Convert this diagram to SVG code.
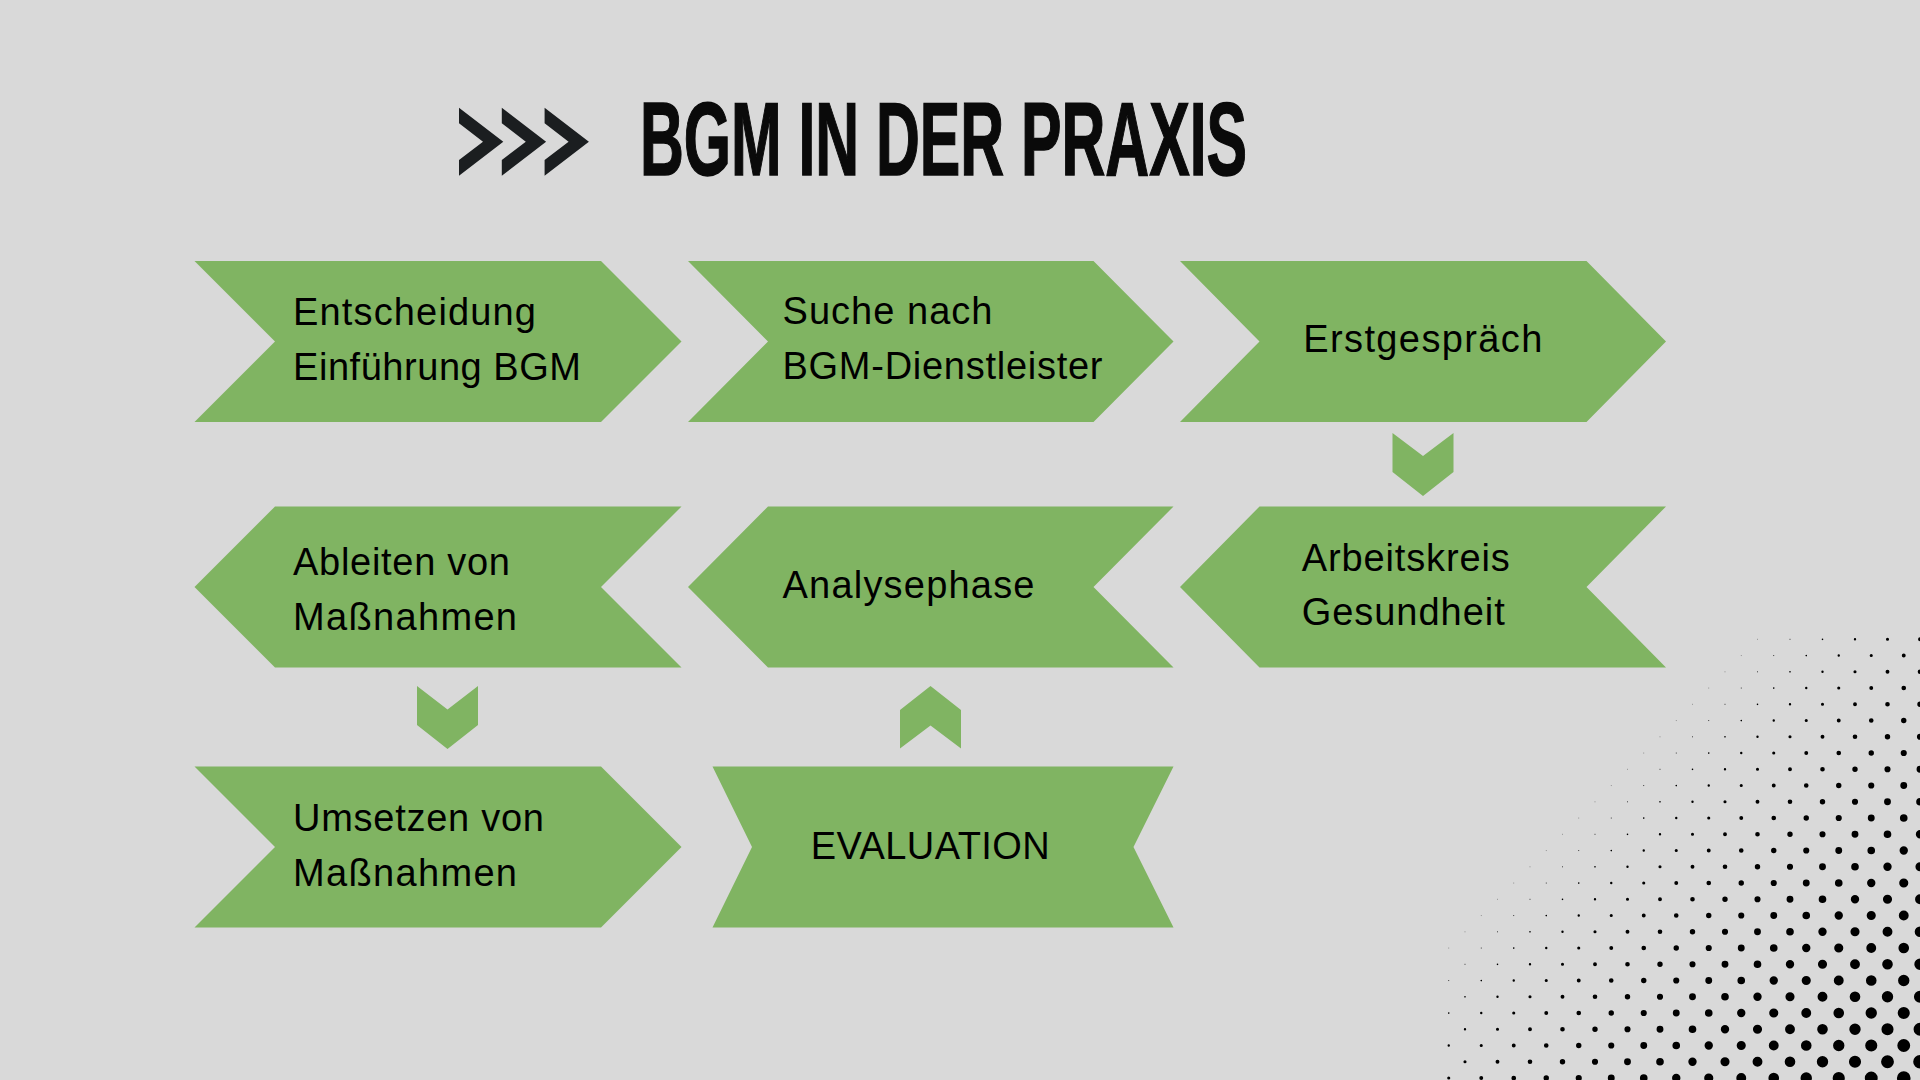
<svg xmlns="http://www.w3.org/2000/svg" width="1920" height="1080" viewBox="0 0 1920 1080">
<style>
.node{fill:#80b462}
.lbl{font-family:"Liberation Sans",Arial,sans-serif;font-size:38px;fill:#000}
.con{fill:#80b462}
.dots line{stroke:#000;stroke-linecap:round;stroke-dasharray:0 22.981;fill:none}
</style>
<rect x="0" y="0" width="1920" height="1080" fill="#d9d9d9"/>

<g id="halftone" class="dots">
<line x1="1757.5" y1="639.3" x2="1448" y2="948.8" stroke-width="0.7" stroke-opacity="0.6"/>
<line x1="1790" y1="639.3" x2="1448" y2="981.3" stroke-width="0.9"/>
<line x1="1822.5" y1="639.3" x2="1448" y2="1013.8" stroke-width="1.66"/>
<line x1="1855" y1="639.3" x2="1448" y2="1046.3" stroke-width="2.4"/>
<line x1="1887.5" y1="639.3" x2="1448" y2="1078.8" stroke-width="3.14"/>
<line x1="1920" y1="639.3" x2="1480.5" y2="1078.8" stroke-width="3.9"/>
<line x1="1920" y1="671.8" x2="1513" y2="1078.8" stroke-width="4.64"/>
<line x1="1920" y1="704.3" x2="1545.5" y2="1078.8" stroke-width="5.4"/>
<line x1="1920" y1="736.8" x2="1578" y2="1078.8" stroke-width="6.14"/>
<line x1="1920" y1="769.3" x2="1610.5" y2="1078.8" stroke-width="6.88"/>
<line x1="1920" y1="801.8" x2="1643" y2="1078.8" stroke-width="7.64"/>
<line x1="1920" y1="834.3" x2="1675.5" y2="1078.8" stroke-width="8.38"/>
<line x1="1920" y1="866.8" x2="1708" y2="1078.8" stroke-width="9.12"/>
<line x1="1920" y1="899.3" x2="1740.5" y2="1078.8" stroke-width="9.88"/>
<line x1="1920" y1="931.8" x2="1773" y2="1078.8" stroke-width="10.62"/>
<line x1="1920" y1="964.3" x2="1805.5" y2="1078.8" stroke-width="11.38"/>
<line x1="1920" y1="996.8" x2="1838" y2="1078.8" stroke-width="12.12"/>
<line x1="1920" y1="1029.3" x2="1870.5" y2="1078.8" stroke-width="12.86"/>
<line x1="1920" y1="1061.8" x2="1903" y2="1078.8" stroke-width="13.62"/>
</g>

<g id="title">
<polygon fill="#1b1e20" points="459,107.7 503.3,141.7 459,175.7 459,160.1 483,141.7 459,123.3"/>
<polygon fill="#1b1e20" points="501.8,107.7 546.1,141.7 501.8,175.7 501.8,160.1 525.8,141.7 501.8,123.3"/>
<polygon fill="#1b1e20" points="544.6,107.7 588.9,141.7 544.6,175.7 544.6,160.1 568.6,141.7 544.6,123.3"/>
<text x="640" y="175" font-family="'Liberation Sans',Arial,sans-serif" font-weight="bold" font-size="104" fill="#0a0a0a" stroke="#0a0a0a" stroke-width="1.5" textLength="607" lengthAdjust="spacingAndGlyphs">BGM IN DER PRAXIS</text>
</g>

<g id="connectors">
<polygon class="con" points="1392.5,433 1423,456 1453.5,433 1453.5,472 1423,496 1392.5,472"/>
<polygon class="con" points="417,686 447.5,709.5 478,686 478,725 447.5,749 417,725"/>
<polygon class="con" points="930.5,686 961,710 961,748.5 930.5,725.5 900,748.5 900,710"/>
</g>

<g id="node-entscheidung">
<polygon class="node" points="194.5,261 601,261 681.5,341.5 601,422 194.5,422 275,341.5"/>
<text class="lbl" x="293" y="325" textLength="243">Entscheidung</text>
<text class="lbl" x="293" y="380" textLength="288">Einführung BGM</text>
</g>

<g id="node-suche">
<polygon class="node" points="688,261 1093.5,261 1173.5,341.5 1093.5,422 688,422 768,341.5"/>
<text class="lbl" x="782.5" y="324" textLength="210">Suche nach</text>
<text class="lbl" x="782.5" y="379.3" textLength="320">BGM-Dienstleister</text>
</g>

<g id="node-erstgespraech">
<polygon class="node" points="1180,261 1586.5,261 1666,341.5 1586.5,422 1180,422 1259.5,341.5"/>
<text class="lbl" x="1303.3" y="351.7" textLength="239">Erstgespräch</text>
</g>

<g id="node-arbeitskreis">
<polygon class="node" points="1259.5,506.5 1666,506.5 1586.5,587 1666,667.5 1259.5,667.5 1180,587"/>
<text class="lbl" x="1301.7" y="570.7" textLength="208">Arbeitskreis</text>
<text class="lbl" x="1301.7" y="625" textLength="203">Gesundheit</text>
</g>

<g id="node-analysephase">
<polygon class="node" points="768,506.5 1173.5,506.5 1093.5,587 1173.5,667.5 768,667.5 688,587"/>
<text class="lbl" x="782.5" y="598.3" textLength="252">Analysephase</text>
</g>

<g id="node-ableiten">
<polygon class="node" points="275,506.5 681.5,506.5 601,587 681.5,667.5 275,667.5 194.5,587"/>
<text class="lbl" x="293" y="575" textLength="217">Ableiten von</text>
<text class="lbl" x="293" y="630" textLength="224">Maßnahmen</text>
</g>

<g id="node-umsetzen">
<polygon class="node" points="194.5,766.5 601,766.5 681.5,847 601,927.5 194.5,927.5 275,847"/>
<text class="lbl" x="293" y="830.7" textLength="251">Umsetzen von</text>
<text class="lbl" x="293" y="886" textLength="224">Maßnahmen</text>
</g>

<g id="node-evaluation">
<polygon class="node" points="712.5,766.5 1173.5,766.5 1133.5,847 1173.5,927.5 712.5,927.5 752,847"/>
<text class="lbl" x="810.7" y="859.3" textLength="239">EVALUATION</text>
</g>
</svg>
